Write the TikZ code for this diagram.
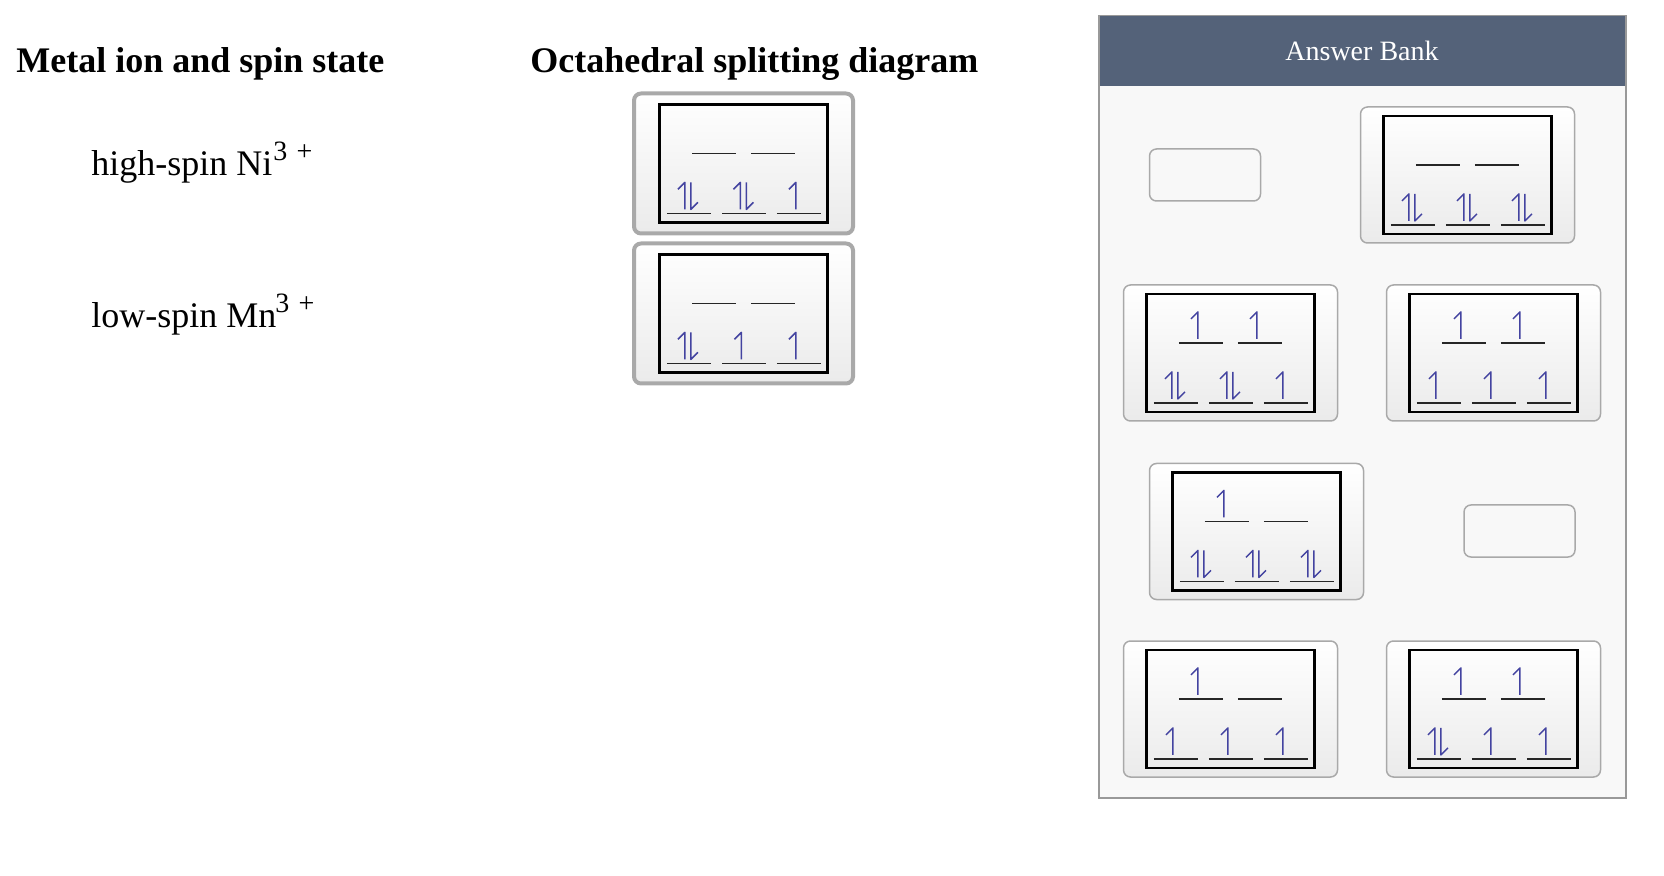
\documentclass[tikz,border=0pt]{standalone}
\usepackage{fontspec}
\setmainfont{Liberation Serif}
\definecolor{bankHead}{HTML}{546279}
\definecolor{bankFill}{HTML}{F8F8F8}
\definecolor{bankEdge}{HTML}{999999}
\definecolor{cardEdge}{HTML}{A9A9A9}
\definecolor{spinBlue}{HTML}{4343A0}
\tikzset{
    octCard/.style={draw=cardEdge,line width=0.75pt,rounded corners=3.5pt,
                    top color=white,bottom color=black!8,
                    minimum width=107pt,minimum height=68pt,inner sep=0pt},
    octPlaced/.style={octCard,line width=2pt,minimum width=109.5pt,minimum height=70pt},
    octBox/.style={draw=black,line width=1.1pt,fill=none,
                   minimum width=84pt,minimum height=59pt,inner sep=0pt},
    octSlot/.style={draw=cardEdge,line width=0.75pt,fill=bankFill,rounded corners=3.5pt,
                    minimum width=55.5pt,minimum height=26pt,inner sep=0pt},
    octLevel/.style={draw=black!85,line width=0.7pt},
    octSpin/.style={draw=spinBlue,line width=0.75pt,line join=round},
    octHead/.style={anchor=base west,inner sep=0pt,font=\fontsize{18}{18}\selectfont\bfseries},
    octIon/.style={anchor=base west,inner sep=0pt,font=\fontsize{18}{18}\selectfont}
}
% #1 name, #2 card style, #3 centre, #4 upper pair and #5 lower three (x/y/electrons)
\newcommand{\octDiagram}[5]{
    \node[#2] (#1) at (#3) {};
    \node[octBox] (#1Box) at (#1) {};
    \begin{scope}[shift={(#1Box.north west)}]
        \foreach \lvlx/\lvly/\lvln in {#4,#5}{
            \draw[octLevel] (\lvlx,\lvly) -- ++(44,0);
            \ifnum\lvln=1
                \draw[octSpin] (\lvlx+19,\lvly-4) -- ++(0,-27) -- ++(-7,7);
            \fi
            \ifnum\lvln=2
                \draw[octSpin] (\lvlx+18,\lvly-4) -- ++(0,-27) -- ++(-7,7);
                \draw[octSpin] (\lvlx+24,\lvly-31) -- ++(0,27) -- ++(7,-7);
            \fi
        }
    \end{scope}
}
\begin{document}
\begin{tikzpicture}[x=0.5pt,y=-0.5pt]
    \useasboundingbox (0,0) rectangle (1664,876);

    \node[octHead] (ionHead) at (16,73) {Metal ion and spin state};
    \node[octHead] (splitHead) at (530,73) {Octahedral splitting diagram};
    \node[octIon] (ionNi) at (91,176) {high-spin Ni\raisebox{0.42em}{\fontsize{14}{14}\selectfont\kern0.5pt 3\,\,+}};
    \node[octIon] (ionMn) at (91,328) {low-spin Mn\raisebox{0.42em}{\fontsize{14}{14}\selectfont\kern-0.5pt 3\,\,+}};

    \octDiagram{placedNi}{octPlaced}{743.5,163.5}{34/50/0,93/50/0}{8.5/110/2,64/110/2,118.5/110/1}
    \octDiagram{placedMn}{octPlaced}{743.5,313.5}{34/50/0,93/50/0}{8.5/110/2,64/110/1,118.5/110/1}

    % answer bank
    \node[draw=bankEdge,line width=0.75pt,fill=bankFill,minimum width=263.5pt,
          minimum height=391pt,inner sep=0pt] (bankPanel) at (1362.5,407) {};
    \node[fill=bankHead,minimum width=262.5pt,minimum height=35pt,inner sep=0pt]
          (bankHeader) at (1362.5,51) {};
    \node[text=white,font=\fontsize{14}{14}\selectfont] (bankTitle) at (1362,50.5) {Answer Bank};

    \node[octSlot] (slotA) at (1205,175) {};
    \node[octSlot] (slotB) at (1519.5,531) {};
    \octDiagram{cardA}{octCard}{1467.5,175}{33.5/50/0,92.5/50/0}{8.5/110/2,63.5/110/2,118.5/110/2}
    \octDiagram{cardB}{octCard}{1230.5,353}{33.5/50/1,92.5/50/1}{8.5/110/2,63.5/110/2,118.5/110/1}
    \octDiagram{cardC}{octCard}{1493.5,353}{33.5/50/1,92.5/50/1}{8.5/110/1,63.5/110/1,118.5/110/1}
    \octDiagram{cardD}{octCard}{1256.5,531.5}{33.5/50/1,92.5/50/0}{8.5/110/2,63.5/110/2,118.5/110/2}
    \octDiagram{cardE}{octCard}{1230.5,709}{33.5/50/1,92.5/50/0}{8.5/110/1,63.5/110/1,118.5/110/1}
    \octDiagram{cardF}{octCard}{1493.5,709}{33.5/50/1,92.5/50/1}{8.5/110/2,63.5/110/1,118.5/110/1}
\end{tikzpicture}
\end{document}
